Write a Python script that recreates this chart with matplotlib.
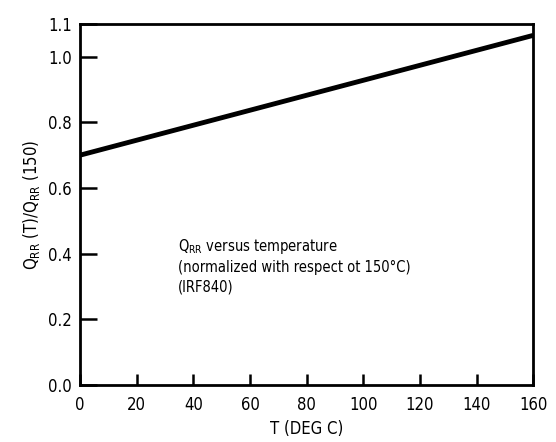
import matplotlib
matplotlib.use("Agg")
import matplotlib.pyplot as plt

plt.rcParams['font.family'] = ['DejaVu Sans']
plt.rcParams['font.stretch'] = 'condensed'

# data
temp = [0, 160]
qrr_ratio = [0.70, 1.065]

x_ticks = [0, 20, 40, 60, 80, 100, 120, 140, 160]
y_ticks = [0.0, 0.2, 0.4, 0.6, 0.8, 1.0, 1.1]

fig = plt.figure(figsize=(5.56, 4.42), dpi=100)
ax = fig.add_axes([0.144, 0.129, 0.815, 0.817])

ax.plot(temp, qrr_ratio, color='black', lw=3.5, solid_capstyle='butt')

ax.set_xlim(0, 160)
ax.set_ylim(0, 1.1)
ax.set_xticks(x_ticks)
ax.set_yticks(y_ticks)
ax.set_yticklabels([f"{v:.1f}" for v in y_ticks])
ax.tick_params(direction='in', length=12, width=1.8, labelsize=12, pad=6)
ax.tick_params(axis='x', length=8, pad=8)
for s in ax.spines.values():
    s.set_linewidth(2)

ax.set_xlabel('T (DEG C)', fontsize=12)
ax.set_ylabel(r'Q$_{\mathrm{RR}}$ (T)/Q$_{\mathrm{RR}}$ (150)', fontsize=12)

ax.text(34.5, 0.45, "Q$_{\\mathrm{RR}}$ versus temperature\n"
        "(normalized with respect ot 150°C)\n(IRF840)",
        fontsize=10.5, va='top', ha='left', linespacing=1.35)

fig.savefig('out.png', dpi=100)
